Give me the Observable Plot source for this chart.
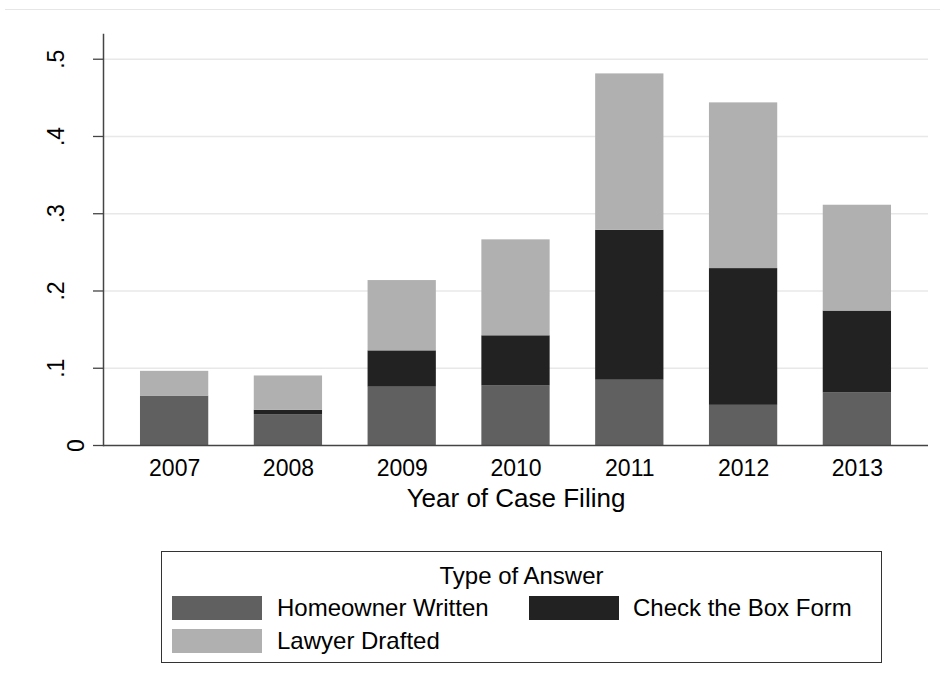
<!DOCTYPE html>
<html>
<head>
<meta charset="utf-8">
<script src="https://cdn.jsdelivr.net/npm/d3@7"></script>
<script src="https://cdn.jsdelivr.net/npm/@observablehq/plot@0.6"></script>
<style>
  html, body { margin: 0; padding: 0; background: #fff; }
  body { font-family: "Liberation Sans", Arial, Helvetica, sans-serif; }
  #wrap { position: relative; width: 940px; height: 690px; overflow: hidden; }
  #topline { position: absolute; left: 5px; right: 0; top: 9px; height: 1px; background: #e6e6e6; }
  #legend { position: absolute; left: 161px; top: 551px; width: 719px; height: 110px; border: 1.5px solid #333; box-sizing: content-box; }
  #legend .title { position: absolute; left: 0; right: 0; top: 9px; text-align: center; font-size: 24px; line-height: 30px; color: #000; }
  #legend .sw { position: absolute; width: 90px; height: 24px; }
  #legend .lab { position: absolute; font-size: 24px; line-height: 30px; color: #000; white-space: nowrap; }
</style>
</head>
<body>
<div id="wrap">
  <div id="chart"></div>
  <div id="topline"></div>
  <div id="legend"><div class="title">Type of Answer</div></div>
</div>
<script>
// ---- data ----
const years = ["2007", "2008", "2009", "2010", "2011", "2012", "2013"];
const types = ["Homeowner Written", "Check the Box Form", "Lawyer Drafted"];
const colors = ["#606060", "#222222", "#b0b0b0"];
const homeowner = [0.064, 0.040, 0.0755, 0.077, 0.0845, 0.052, 0.068];
const checkBox  = [0.000, 0.0056, 0.047, 0.065, 0.194, 0.177, 0.106];
const lawyer    = [0.032, 0.0444, 0.091, 0.1242, 0.2025, 0.2145, 0.137];
const yTickValues = [0, 0.1, 0.2, 0.3, 0.4, 0.5];
const yTickLabels = ["0", ".1", ".2", ".3", ".4", ".5"];
const xTitle = "Year of Case Filing";
const legendTitle = "Type of Answer";

// ---- long table for stacking ----
const series = [homeowner, checkBox, lawyer];
const table = [];
years.forEach((yr, i) => {
  types.forEach((t, j) => table.push({year: yr, type: t, value: series[j][i]}));
});
const yLabelRows = yTickValues.map((v, i) => ({v, label: yTickLabels[i]}));

const chart = Plot.plot({
  width: 940,
  height: 540,
  marginLeft: 103,
  marginRight: 12,
  marginTop: 34,
  marginBottom: 95,
  x: {domain: years, paddingInner: 0.4, paddingOuter: 0.325, round: false},
  y: {domain: [0, 0.532]},
  color: {domain: types, range: colors},
  style: {fontFamily: "'Liberation Sans', Arial, Helvetica, sans-serif", background: "white", color: "#000", overflow: "visible"},
  marks: [
    Plot.ruleY(yTickValues.filter(d => d > 0), {stroke: "#e8e8e8", strokeWidth: 1.6}),
    Plot.barY(table, {x: "year", y: "value", fill: "type"}),
    Plot.ruleY([0], {stroke: "#444", strokeWidth: 1.5}),
    Plot.frame({anchor: "left", stroke: "#444", strokeWidth: 1.5}),
    Plot.axisY(yTickValues, {tickSize: 10, tickFormat: () => "", label: null, stroke: "#444", strokeWidth: 1.3}),
    Plot.text(yLabelRows.filter(d => d.v !== 0), {y: "v", text: "label", frameAnchor: "left", rotate: -90, dx: -47, fontSize: 23, textAnchor: "middle", lineAnchor: "middle", fill: "#000"}),
    Plot.text(yLabelRows.filter(d => d.v === 0), {y: "v", text: "label", frameAnchor: "left", rotate: -90, dx: -27, fontSize: 23, textAnchor: "middle", lineAnchor: "middle", fill: "#000"}),
    Plot.axisX({tickSize: 0, tickPadding: 14, fontSize: 23, label: null, fill: "#000"}),
    Plot.text([xTitle], {frameAnchor: "bottom", lineAnchor: "top", dy: 43, fontSize: 26, fill: "#000"})
  ]
});
document.getElementById("chart").appendChild(chart);

// ---- legend (HTML, below the SVG) ----
const legend = document.getElementById("legend");
legend.querySelector(".title").textContent = legendTitle;
const slots = [
  {sx: 10, sy: 44, tx: 115, ty: 41},
  {sx: 367, sy: 44, tx: 471, ty: 41},
  {sx: 10, sy: 77, tx: 115, ty: 74}
];
types.forEach((t, i) => {
  const s = slots[i];
  const sw = document.createElement("div");
  sw.className = "sw";
  sw.style.left = s.sx + "px";
  sw.style.top = s.sy + "px";
  sw.style.background = colors[i];
  legend.appendChild(sw);
  const lab = document.createElement("div");
  lab.className = "lab";
  lab.style.left = s.tx + "px";
  lab.style.top = s.ty + "px";
  lab.textContent = t;
  legend.appendChild(lab);
});
</script>
</body>
</html>
